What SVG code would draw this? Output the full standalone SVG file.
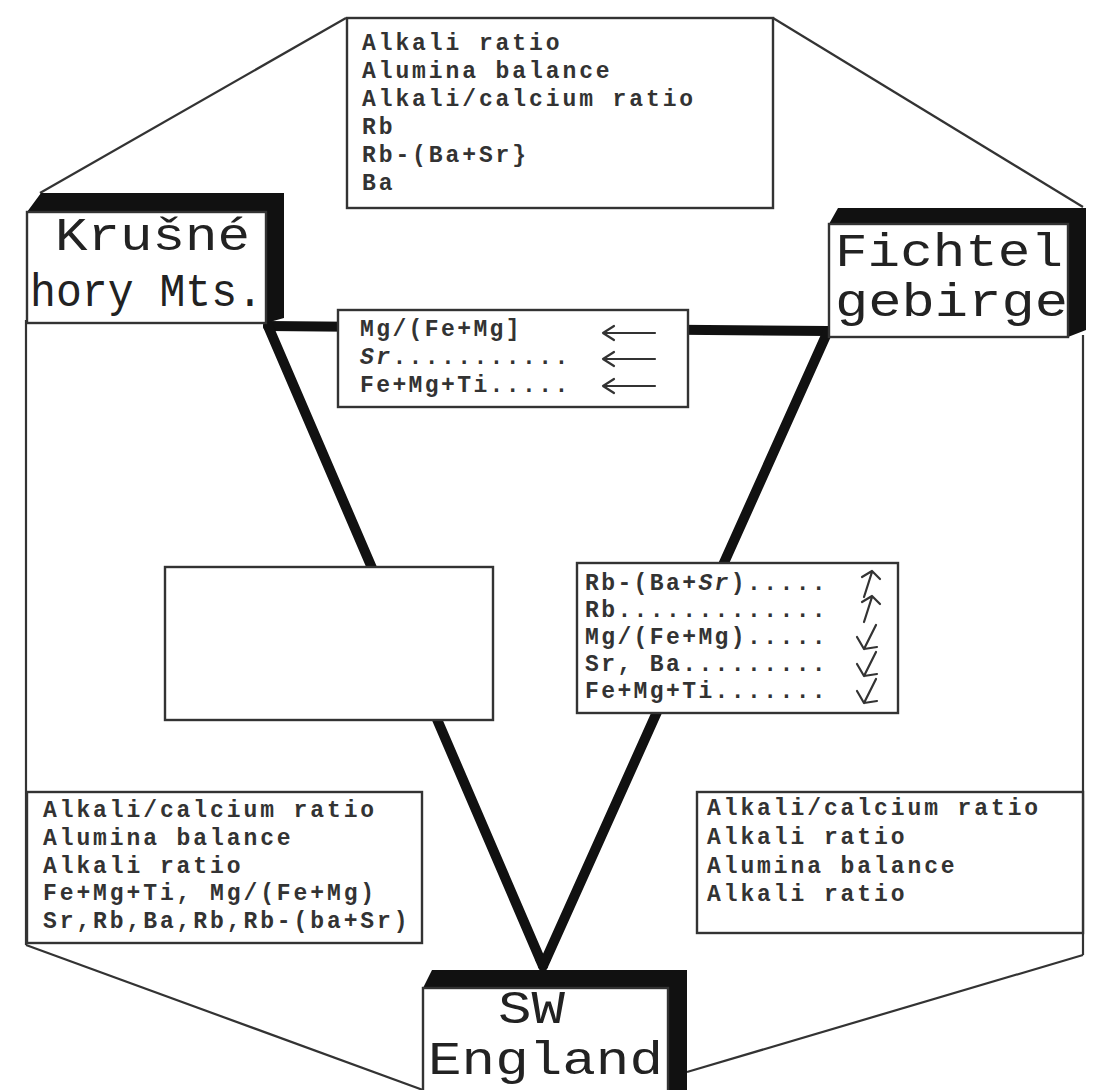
<svg xmlns="http://www.w3.org/2000/svg" width="1094" height="1090" viewBox="0 0 1094 1090">
  <style>
    .frame { stroke: #333; stroke-width: 2.2; fill: none; }
    .box { fill: #fff; stroke: #333; stroke-width: 2.4; }
    .bold-edge { fill: #111; }
    .link { stroke: #111; stroke-width: 10; fill: none; stroke-linecap: round; }
    .arrow { stroke: #333; stroke-width: 2.2; fill: none; stroke-linecap: round; stroke-linejoin: round; }
    .big { font-family: "Liberation Mono", "Courier New", monospace; font-size: 46px; fill: #222; }
    .small { font-family: "Liberation Mono", "Courier New", monospace; font-size: 23px; font-weight: bold; fill: #333; letter-spacing: 2.9px; }
    .mid { letter-spacing: 2.4px; }
  </style>

  <!-- outer frame of thin lines -->
  <g id="frame">
    <line class="frame" x1="346" y1="18" x2="40" y2="193"/>
    <line class="frame" x1="773" y1="18" x2="1083" y2="207"/>
    <line class="frame" x1="26" y1="320" x2="26" y2="945"/>
    <line class="frame" x1="26" y1="945" x2="423" y2="1090"/>
    <line class="frame" x1="1083" y1="335" x2="1083" y2="955"/>
    <line class="frame" x1="1083" y1="955" x2="687" y2="1072"/>
  </g>

  <!-- thick connectors between the three regions -->
  <g id="connectors">
    <line class="link" x1="268" y1="326" x2="828" y2="331"/>
    <line class="link" x1="268" y1="326" x2="543" y2="966"/>
    <line class="link" x1="828" y1="331" x2="543" y2="966"/>
    <polygon points="535,960 551,960 543,972" fill="#111"/>
  </g>

  <!-- top summary box -->
  <g id="top-box">
    <rect class="box" x="347" y="18" width="426" height="190"/>
    <text class="small" x="362" y="50">Alkali ratio</text>
    <text class="small" x="362" y="78">Alumina balance</text>
    <text class="small" x="362" y="106">Alkali/calcium ratio</text>
    <text class="small" x="362" y="134">Rb</text>
    <text class="small" x="362" y="162">Rb-(Ba+Sr}</text>
    <text class="small" x="362" y="190">Ba</text>
  </g>

  <!-- Krušné hory region -->
  <g id="krusne-hory">
    <polygon class="bold-edge" points="27,212 41,193 284,193 284,318 266,323 266,212"/>
    <rect class="box" x="27" y="212" width="239" height="111"/>
    <text class="big" x="55" y="250" textLength="195" lengthAdjust="spacingAndGlyphs">Krušné</text>
    <text class="big" x="30" y="306" textLength="233" lengthAdjust="spacingAndGlyphs">hory Mts.</text>
  </g>

  <!-- Fichtelgebirge region -->
  <g id="fichtelgebirge">
    <polygon class="bold-edge" points="829,224 838,208 1086,208 1086,330 1068,337 1068,224"/>
    <rect class="box" x="829" y="224" width="239" height="113"/>
    <text class="big" x="835" y="266" textLength="228" lengthAdjust="spacingAndGlyphs">Fichtel</text>
    <text class="big" x="835" y="316" textLength="233" lengthAdjust="spacingAndGlyphs">gebirge</text>
  </g>

  <!-- SW England region -->
  <g id="sw-england">
    <polygon class="bold-edge" points="423,988 432,970 687,970 687,1092 668,1092 668,988"/>
    <rect class="box" x="423" y="988" width="245" height="110"/>
    <text class="big" x="498" y="1023" textLength="67" lengthAdjust="spacingAndGlyphs">SW</text>
    <text class="big" x="428" y="1074" textLength="235" lengthAdjust="spacingAndGlyphs">England</text>
  </g>

  <!-- Krušné hory – Fichtelgebirge trends -->
  <g id="kh-fg-box">
    <rect class="box" x="338" y="310" width="350" height="97"/>
    <text class="small mid" x="360" y="336">Mg/(Fe+Mg]</text>
    <text class="small mid" x="360" y="364"><tspan font-style="italic">Sr</tspan>...........</text>
    <text class="small mid" x="360" y="392">Fe+Mg+Ti.....</text>
    <path class="arrow" d="M603 333 H655 M603 333 l11 -7 M603 333 l11 7"/>
    <path class="arrow" d="M603 359 H655 M603 359 l11 -7 M603 359 l11 7"/>
    <path class="arrow" d="M603 386 H655 M603 386 l11 -7 M603 386 l11 7"/>
  </g>

  <!-- Krušné hory – SW England (blank) -->
  <g id="kh-sw-box">
    <rect class="box" x="165" y="567" width="328" height="153"/>
  </g>

  <!-- Fichtelgebirge – SW England trends -->
  <g id="fg-sw-box">
    <rect class="box" x="577" y="563" width="321" height="150"/>
    <text class="small mid" x="585" y="590">Rb-(Ba+<tspan font-style="italic">Sr</tspan>).....</text>
    <text class="small mid" x="585" y="617">Rb.............</text>
    <text class="small mid" x="585" y="644">Mg/(Fe+Mg).....</text>
    <text class="small mid" x="585" y="671">Sr, Ba.........</text>
    <text class="small mid" x="585" y="698">Fe+Mg+Ti.......</text>
    <path class="arrow" d="M864 597 L872 572 M862 577 L872 571 L880 579"/>
    <path class="arrow" d="M864 622 L872 597 M862 602 L872 596 L880 604"/>
    <path class="arrow" d="M876 625 L864 649 M857 637 L864 649 L877 647"/>
    <path class="arrow" d="M876 652 L864 676 M857 664 L864 676 L877 674"/>
    <path class="arrow" d="M876 679 L864 703 M857 691 L864 703 L877 701"/>
  </g>

  <!-- Krušné hory summary -->
  <g id="kh-summary">
    <rect class="box" x="27" y="792" width="395" height="151"/>
    <text class="small" x="43" y="817">Alkali/calcium ratio</text>
    <text class="small" x="43" y="845">Alumina balance</text>
    <text class="small" x="43" y="873">Alkali ratio</text>
    <text class="small" x="43" y="900">Fe+Mg+Ti, Mg/(Fe+Mg)</text>
    <text class="small" x="43" y="928">Sr,Rb,Ba,Rb,Rb-(ba+Sr)</text>
  </g>

  <!-- Fichtelgebirge summary -->
  <g id="fg-summary">
    <rect class="box" x="697" y="792" width="386" height="141"/>
    <text class="small" x="707" y="815">Alkali/calcium ratio</text>
    <text class="small" x="707" y="844">Alkali ratio</text>
    <text class="small" x="707" y="873">Alumina balance</text>
    <text class="small" x="707" y="901">Alkali ratio</text>
  </g>
</svg>
